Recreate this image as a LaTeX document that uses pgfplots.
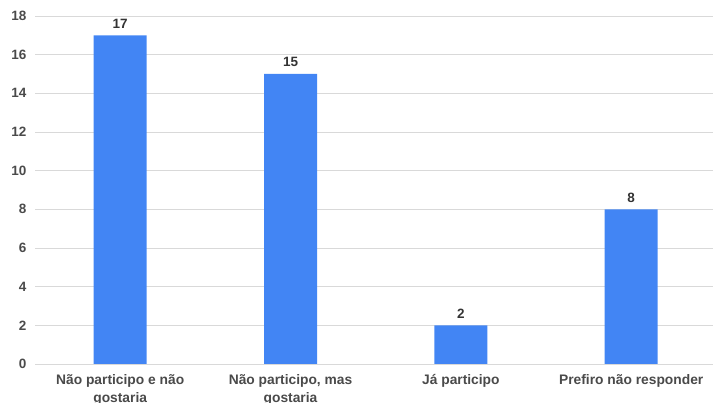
\documentclass[border=0pt]{standalone}
\usepackage{pgfplots}
\pgfplotsset{compat=1.18}
\usepackage{fontspec}
\setmainfont{Liberation Sans}
\definecolor{barblue}{HTML}{4285F4}
\definecolor{gridgray}{HTML}{D9D9D9}
\definecolor{ticktext}{HTML}{4A4A4A}
\definecolor{labeltext}{HTML}{333333}
\begin{document}
\begin{tikzpicture}[x=1pt,y=1pt]
\begin{axis}[
  at={(35pt,39pt)}, anchor=south west,
  scale only axis,
  width=678pt, height=348pt,
  xmin=-0.5, xmax=3.48,
  ymin=0, ymax=18,
  ytick={0,2,...,18},
  xtick={0,1,2,3},
  xticklabels={{Não participo e não\\gostaria},{Não participo, mas\\gostaria},{Já participo},{Prefiro não responder}},
  axis line style={draw=none},
  major tick length=0pt,
  ymajorgrids,
  grid style={gridgray, line width=0.9pt},
  /pgf/number format/assume math mode=true,
  yticklabel style={font=\fontsize{13.5}{15}\selectfont\bfseries, text=ticktext, xshift=-5pt},
  xticklabel style={font=\fontsize{13.8}{17.5}\selectfont\bfseries, text=ticktext, align=center, anchor=north, yshift=-7pt},
  ybar, bar width=53pt,
  nodes near coords,
  nodes near coords style={font=\fontsize{13.5}{15}\selectfont\bfseries, text=labeltext, yshift=3.5pt},
  clip=false,
]
\addplot[fill=barblue, draw=none] coordinates {(0,17) (1,15) (2,2) (3,8)};
\end{axis}
\pgfresetboundingbox
\path[use as bounding box] (0,0) rectangle (713,403);
\end{tikzpicture}
\end{document}
